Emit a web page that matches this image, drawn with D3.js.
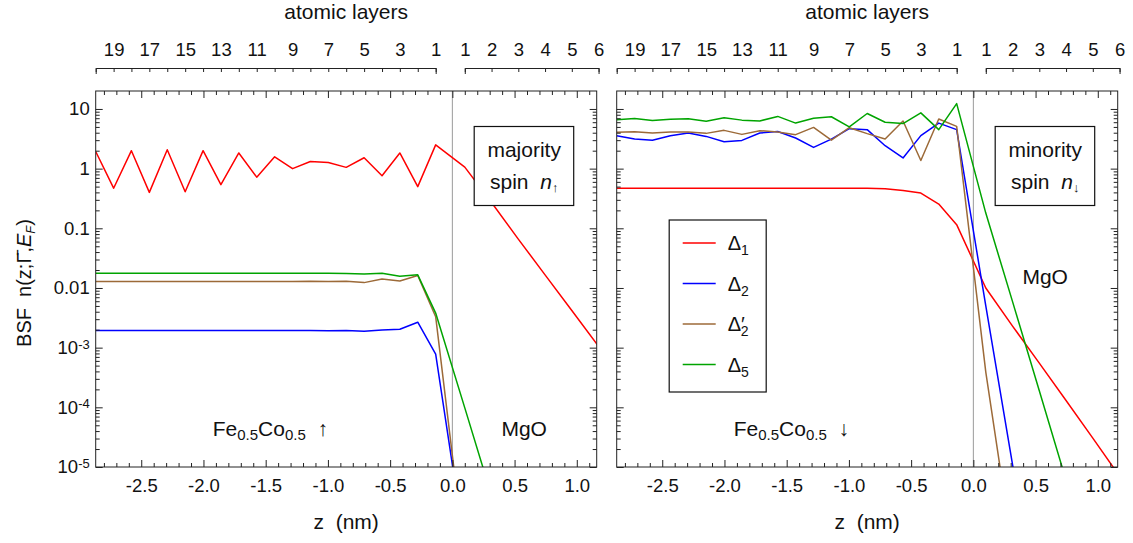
<!DOCTYPE html>
<html>
<head>
<meta charset="utf-8">
<script src="https://cdn.jsdelivr.net/npm/d3@7"></script>
<style>
  body { margin: 0; background: #fff; }
  svg text { font-family: "Liberation Sans", Arial, sans-serif; fill: #111; white-space: pre; }
</style>
</head>
<body>
<script>

	// Layer positions (nm): Fe layers 20..1, then MgO layers 1..6
	var feLayers = [20, 19, 18, 17, 16, 15, 14, 13, 12, 11, 10, 9, 8, 7, 6, 5, 4, 3, 2, 1];
	var zFe = [-2.866, -2.722, -2.579, -2.435, -2.291, -2.147, -2.003, -1.860, -1.716, -1.572,
	           -1.428, -1.284, -1.141, -0.997, -0.853, -0.709, -0.565, -0.422, -0.278, -0.134];
	var mgoLayers = [1, 2, 3, 4, 5, 6];
	var zMgO = [0.100, 0.315, 0.530, 0.745, 0.960, 1.175];

	// Majority spin (left panel)
	var upD1Fe   = [1.94, 0.47, 2.0, 0.40, 2.07, 0.41, 2.0, 0.54, 1.83, 0.72, 1.58, 1.0, 1.32, 1.27, 1.05, 1.52, 0.76, 1.83, 0.50, 2.5];
	var upD1MgO  = [1.06, 0.27, 0.066, 0.0166, 0.0042, 0.00105];
	var upD2Fe   = [0.00193, 0.00193, 0.00193, 0.00193, 0.00193, 0.00193, 0.00193, 0.00193, 0.00193, 0.00193,
	                0.00193, 0.00193, 0.00193, 0.00192, 0.00193, 0.00188, 0.00198, 0.00203, 0.00267, 0.00078];
	var upD2MgO  = [4.6e-7, 2e-9, 1e-11, 1e-13, 1e-15, 1e-17];
	var upD2pFe  = [0.0128, 0.0128, 0.0128, 0.0128, 0.0128, 0.0128, 0.0128, 0.0128, 0.0129, 0.0128,
	                0.0129, 0.0128, 0.0130, 0.0128, 0.0130, 0.0123, 0.0141, 0.0131, 0.0162, 0.0033];
	var upD2pMgO = [2.9e-7, 1e-9, 1e-11, 1e-13, 1e-15, 1e-17];
	var upD5Fe   = [0.0177, 0.0177, 0.0177, 0.0177, 0.0177, 0.0177, 0.0177, 0.0177, 0.0177, 0.0177,
	                0.0177, 0.0176, 0.0177, 0.0176, 0.0175, 0.0172, 0.0177, 0.0157, 0.0166, 0.0038];
	var upD5MgO  = [9.8e-5, 3.3e-6, 1e-7, 3e-9, 1e-10, 3e-12];

	// Minority spin (right panel)
	var dnD1Fe   = [0.47, 0.47, 0.47, 0.47, 0.47, 0.47, 0.47, 0.47, 0.47, 0.47,
	                0.47, 0.47, 0.47, 0.47, 0.468, 0.46, 0.43, 0.39, 0.255, 0.115];
	var dnD1MgO  = [0.010, 0.0023, 0.00055, 0.00013, 0.0000305, 0.000007];
	var dnD2Fe   = [3.57, 3.13, 3.0, 3.57, 3.95, 3.47, 2.82, 2.97, 3.95, 4.2,
	                3.26, 2.27, 3.13, 4.67, 4.5, 2.42, 1.51, 3.57, 5.8, 4.5];
	var dnD2MgO  = [0.005, 1.1e-5, 2e-8, 1e-10, 1e-12, 1e-14];
	var dnD2pFe  = [4.06, 4.16, 3.95, 4.11, 4.11, 3.9, 4.38, 3.75, 4.33, 4.11,
	                3.71, 4.91, 3.0, 4.85, 3.86, 3.13, 6.3, 1.37, 6.8, 5.1];
	var dnD2pMgO = [3.9e-4, 4e-7, 1e-9, 1e-11, 1e-13, 1e-15];
	var dnD5Fe   = [6.6, 6.9, 6.4, 6.7, 6.85, 6.2, 7.1, 6.5, 6.3, 7.5,
	                5.8, 7.0, 7.4, 5.0, 8.4, 6.0, 5.7, 8.6, 4.5, 12.3];
	var dnD5MgO  = [0.18, 0.0059, 1.9e-4, 6e-6, 2e-7, 6e-9];

	// Axis ticks
	var xTickValues = [-2.5, -2.0, -1.5, -1.0, -0.5, 0.0, 0.5, 1.0];
	var xTickLabels = ["-2.5", "-2.0", "-1.5", "-1.0", "-0.5", "0.0", "0.5", "1.0"];
	var yTickValues = [1e-5, 1e-4, 1e-3, 0.01, 0.1, 1, 10];
	var yTickLabels = ["10|-5", "10|-4", "10|-3", "0.01", "0.1", "1", "10"];

	var seriesColors = ["#ff0000", "#0000ff", "#9c6a38", "#00a400"];

	// Geometria
	var panelW = 501, panelH = 376, plotTop = 91;
	var panelX = [95.7, 616.7];
	var tickFont = 18.5, titleFont = 21;

	var xScale = d3.scaleLinear().domain([-2.866, 1.16]).range([0, panelW]);
	var yScale = d3.scaleLog().domain([1e-5, 20]).range([panelH, 0]);

	var xMinor = d3.range(-28, 12).map(function(d){ return d / 10; })
		.filter(function(d){ return Math.abs(d * 2 - Math.round(d * 2)) > 1e-6; });
	var yMinor = [];
	[1e-5, 1e-4, 1e-3, 1e-2, 0.1, 1, 10].forEach(function(p){
		for (var k = 2; k <= 9; k++) { if (p * k < 20) yMinor.push(p * k); }
	});

	var svg = d3.select("body").append("svg")
		.attr("width", 1133)
		.attr("height", 543);

	function buildPoints(fe, mgo) {
		return zFe.map(function(z, i){ return [z, fe[i]]; })
			.concat(zMgO.map(function(z, i){ return [z, mgo[i]]; }));
	}

	var panels = [
		{ series: [buildPoints(upD1Fe, upD1MgO), buildPoints(upD2Fe, upD2MgO),
		           buildPoints(upD2pFe, upD2pMgO), buildPoints(upD5Fe, upD5MgO)],
		  labels: true, title: ["majority", "spin  ", "n", "\u2191"], arrow: "\u2191",
		  mgoY: 345 },
		{ series: [buildPoints(dnD1Fe, dnD1MgO), buildPoints(dnD2Fe, dnD2MgO),
		           buildPoints(dnD2pFe, dnD2pMgO), buildPoints(dnD5Fe, dnD5MgO)],
		  labels: false, title: ["minority", "spin  ", "n", "\u2193"], arrow: "\u2193",
		  mgoY: 193 }
	];

	var myLine = d3.line()
		.x(function(d){ return xScale(d[0]); })
		.y(function(d){ return yScale(d[1]); });

	panels.forEach(function(p, pi) {
		var g = svg.append("g")
			.attr("transform", "translate(" + panelX[pi] + "," + plotTop + ")");

		g.append("clipPath").attr("id", "clip" + pi)
			.append("rect").attr("width", panelW).attr("height", panelH);

		// linha vertical em z = 0
		g.append("line")
			.attr("x1", xScale(0)).attr("x2", xScale(0))
			.attr("y1", 0).attr("y2", panelH)
			.attr("stroke", "#9a9a9a").attr("stroke-width", 1);

		// Criando linhas
		g.append("g").attr("clip-path", "url(#clip" + pi + ")")
			.selectAll("path")
			.data(p.series)
			.enter()
			.append("path")
			.attr("fill", "none")
			.attr("stroke", function(d, i){ return seriesColors[i]; })
			.attr("stroke-width", 1.5)
			.attr("stroke-linejoin", "round")
			.attr("d", myLine);

		// Eixos
		var bottomMajor = d3.axisBottom(xScale).tickValues(xTickValues)
			.tickSizeInner(-7).tickSizeOuter(0).tickPadding(12)
			.tickFormat(function(d, i){ return xTickLabels[i]; });
		var bottomMinor = d3.axisBottom(xScale).tickValues(xMinor)
			.tickSizeInner(-4).tickSizeOuter(0).tickFormat("");
		var topMajor = d3.axisTop(xScale).tickValues(xTickValues)
			.tickSizeInner(-7).tickSizeOuter(0).tickFormat("");
		var topMinor = d3.axisTop(xScale).tickValues(xMinor)
			.tickSizeInner(-4).tickSizeOuter(0).tickFormat("");

		g.append("g").attr("class", "axis").attr("transform", "translate(0," + panelH + ")").call(bottomMajor);
		g.append("g").attr("class", "axis").attr("transform", "translate(0," + panelH + ")").call(bottomMinor);
		g.append("g").attr("class", "axis").call(topMajor);
		g.append("g").attr("class", "axis").call(topMinor);

		var leftMajor = d3.axisLeft(yScale).tickValues(yTickValues)
			.tickSizeInner(-7).tickSizeOuter(0).tickPadding(6)
			.tickFormat(function(d, i){ return p.labels ? yTickLabels[i] : ""; });
		var leftMinor = d3.axisLeft(yScale).tickValues(yMinor)
			.tickSizeInner(-4).tickSizeOuter(0).tickFormat("");
		var rightMajor = d3.axisRight(yScale).tickValues(yTickValues)
			.tickSizeInner(-7).tickSizeOuter(0).tickFormat("");
		var rightMinor = d3.axisRight(yScale).tickValues(yMinor)
			.tickSizeInner(-4).tickSizeOuter(0).tickFormat("");

		var yAxisGroup = g.append("g").attr("class", "axis").call(leftMajor);
		g.append("g").attr("class", "axis").call(leftMinor);
		g.append("g").attr("class", "axis").attr("transform", "translate(" + panelW + ",0)").call(rightMajor);
		g.append("g").attr("class", "axis").attr("transform", "translate(" + panelW + ",0)").call(rightMinor);

		g.selectAll(".axis .domain").remove();
		g.selectAll(".axis line").attr("stroke", "#222");
		g.selectAll(".axis text").attr("font-size", tickFont).attr("fill", "#111")
			.attr("font-family", "'Liberation Sans', Arial, sans-serif");

		// potencias de dez
		if (p.labels) {
			yAxisGroup.selectAll(".tick text").each(function(d, i){
				var t = d3.select(this);
				var lab = yTickLabels[i];
				if (lab.indexOf("|") >= 0) {
					var parts = lab.split("|");
					t.text(null);
					t.append("tspan").text(parts[0]);
					t.append("tspan").attr("dy", "-0.42em").attr("font-size", 13).text(parts[1]);
				}
			});
		}

		// moldura
		g.append("rect")
			.attr("width", panelW).attr("height", panelH)
			.attr("fill", "none").attr("stroke", "#222").attr("stroke-width", 1);

		// camadas atomicas (eixo superior)
		var feScale = d3.scaleLinear().domain([zFe[0], zFe[zFe.length - 1]])
			.range([xScale(zFe[0]), xScale(zFe[zFe.length - 1])]);
		var mgoScale = d3.scaleLinear().domain([zMgO[0], zMgO[zMgO.length - 1]])
			.range([xScale(zMgO[0]), xScale(zMgO[zMgO.length - 1])]);

		var feAxis = d3.axisTop(feScale).tickValues(zFe)
			.tickSizeInner(-4).tickSizeOuter(-6).tickPadding(12)
			.tickFormat(function(d, i){ return feLayers[i] % 2 === 1 ? feLayers[i] : ""; });
		var mgoAxis = d3.axisTop(mgoScale).tickValues(zMgO)
			.tickSizeInner(-4).tickSizeOuter(-6).tickPadding(12)
			.tickFormat(function(d, i){ return mgoLayers[i]; });

		var layerG = g.append("g").attr("transform", "translate(0,-23)");
		layerG.append("g").call(feAxis);
		layerG.append("g").call(mgoAxis);
		layerG.selectAll("path, line").attr("stroke", "#222");
		layerG.selectAll("text").attr("font-size", tickFont).attr("fill", "#111")
			.attr("font-family", "'Liberation Sans', Arial, sans-serif");

		g.append("text")
			.attr("x", panelW / 2).attr("y", -72)
			.attr("text-anchor", "middle").attr("font-size", titleFont)
			.text("atomic layers");

		g.append("text")
			.attr("x", panelW / 2).attr("y", panelH + 62)
			.attr("text-anchor", "middle").attr("font-size", titleFont)
			.text("z  (nm)");

		// caixa de spin
		g.append("rect")
			.attr("x", 378.5).attr("y", 35.5).attr("width", 99.5).attr("height", 79)
			.attr("fill", "#fff").attr("stroke", "#111").attr("stroke-width", 1.2);
		g.append("text")
			.attr("x", 428.5).attr("y", 66)
			.attr("text-anchor", "middle").attr("font-size", titleFont)
			.text(p.title[0]);
		var st = g.append("text")
			.attr("x", 428.5).attr("y", 98)
			.attr("text-anchor", "middle").attr("font-size", titleFont);
		st.append("tspan").text(p.title[1]);
		st.append("tspan").attr("font-style", "italic").text(p.title[2]);
		st.append("tspan").attr("font-size", 13).attr("dy", 3).text(p.title[3]);

		// Fe0.5Co0.5
		var fe = g.append("text")
			.attr("x", 117).attr("y", 345).attr("font-size", titleFont);
		fe.append("tspan").text("Fe");
		fe.append("tspan").attr("font-size", 15).attr("dy", 4).text("0.5");
		fe.append("tspan").attr("dy", -4).text("Co");
		fe.append("tspan").attr("font-size", 15).attr("dy", 4).text("0.5");
		fe.append("tspan").attr("dy", -4).text("  " + p.arrow);

		g.append("text")
			.attr("x", 428.5).attr("y", p.mgoY)
			.attr("text-anchor", "middle").attr("font-size", titleFont)
			.text("MgO");
	});

	// Legenda (painel direito)
	var leg = svg.append("g")
		.attr("transform", "translate(" + panelX[1] + "," + plotTop + ")");
	leg.append("rect")
		.attr("x", 52.5).attr("y", 129).attr("width", 97).attr("height", 172)
		.attr("fill", "#fff").attr("stroke", "#111").attr("stroke-width", 1.2);

	var legNames = [["\u0394", "", "1"], ["\u0394", "", "2"], ["\u0394", "\u2032", "2"], ["\u0394", "", "5"]];
	legNames.forEach(function(n, i){
		var yy = 152 + i * 40.5;
		leg.append("line")
			.attr("x1", 66).attr("x2", 99).attr("y1", yy).attr("y2", yy)
			.attr("stroke", seriesColors[i]).attr("stroke-width", 1.5);
		var t = leg.append("text")
			.attr("x", 111).attr("y", yy + 7).attr("font-size", 20);
		t.append("tspan").text(n[0]);
		if (n[1]) t.append("tspan").text(n[1]);
		t.append("tspan").attr("font-size", 14).attr("dy", 5)
			.attr("dx", n[1] ? -4 : 0).text(n[2]);
	});

	// Titulo do eixo y
	var yt = svg.append("text")
		.attr("transform", "translate(31,283) rotate(-90)")
		.attr("text-anchor", "middle").attr("font-size", 20);
	yt.append("tspan").text("BSF  n(z;\u0393\u0304,");
	yt.append("tspan").attr("font-style", "italic").text("E");
	yt.append("tspan").attr("font-style", "italic").attr("font-size", 13).attr("dy", 4).text("F");
	yt.append("tspan").attr("dy", -4).text(")");

</script>
</body>
</html>
